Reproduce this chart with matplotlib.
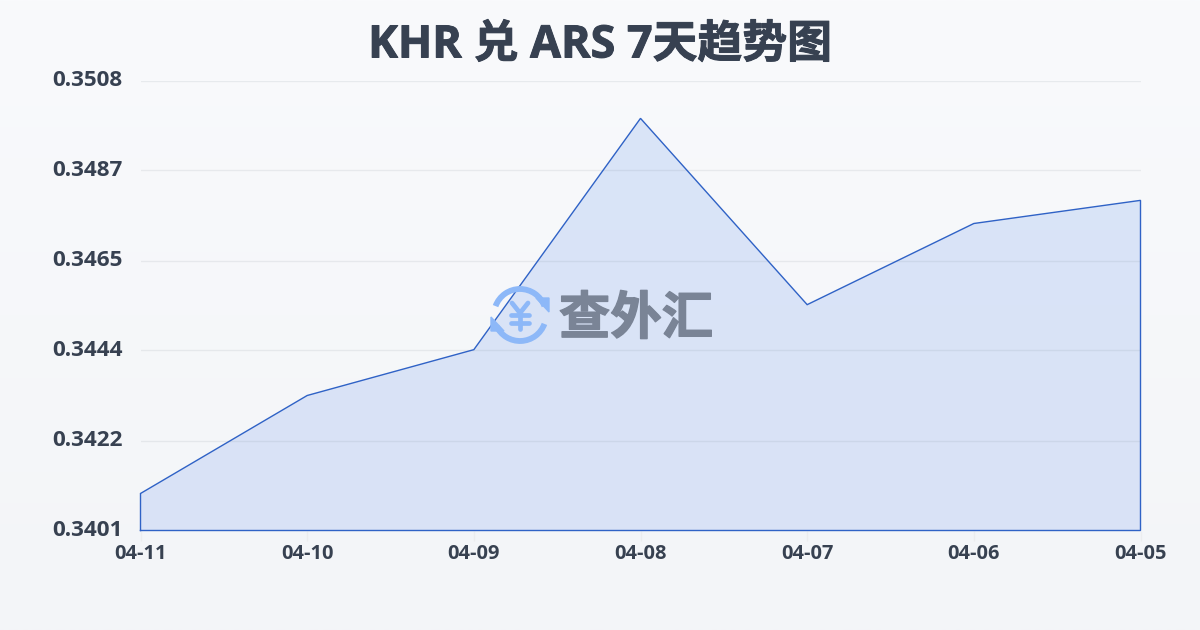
import numpy as np
import matplotlib
matplotlib.use('Agg')
import matplotlib.pyplot as plt
import matplotlib.patheffects as pe
from matplotlib.patches import Arc, Polygon
from matplotlib.colors import LinearSegmentedColormap
from matplotlib.transforms import ScaledTranslation

plt.rcParams['font.family'] = ['Open Sans', 'Noto Sans CJK SC', 'DejaVu Sans']

dates = ['04-11', '04-10', '04-09', '04-08', '04-07', '04-06', '04-05']
rates = [0.34098, 0.34331, 0.34440, 0.34990, 0.34547, 0.34740, 0.34795]
y_labels = ['0.3401', '0.3422', '0.3444', '0.3465', '0.3487', '0.3508']
y_min = 0.3401
y_max = 0.3508

W, H = 1200, 630
text_color = '#374151'

fig = plt.figure(figsize=(12, 6.3), dpi=100)

# 背景渐变
bg = fig.add_axes([0, 0, 1, 1], zorder=0)
bg_cmap = LinearSegmentedColormap.from_list('bg', ['#f9fafc', '#f3f5f8'])
bg.imshow(np.linspace(0, 1, 256).reshape(-1, 1), cmap=bg_cmap, aspect='auto', extent=[0, W, H, 0])
bg.axis('off')

ax = fig.add_axes([140.5 / W, 1 - 530.5 / H, 1000 / W, 450 / H], zorder=1)
ax.patch.set_alpha(0)
x = np.arange(len(dates))

# 面积渐变
fill_cmap = LinearSegmentedColormap.from_list('fill', ['#dae5f8', '#d9e2f6'])
im = ax.imshow(np.linspace(0, 1, 256).reshape(-1, 1), cmap=fill_cmap, aspect='auto',
               extent=[0, len(dates) - 1, y_min, y_max], origin='upper', zorder=1)
poly = ax.fill_between(x, rates, y_min, color='none')
im.set_clip_path(poly.get_paths()[0], transform=ax.transData)
ax.set_xlim(0, len(dates) - 1)
ax.set_ylim(y_min, y_max)

ticks = np.linspace(y_min, y_max, len(y_labels))
ax.set_yticks(ticks)
ax.set_yticklabels(y_labels)
ax.set_xticks(x)
ax.set_xticklabels(dates)
ax.grid(axis='y', color='#7c8794', alpha=0.13, lw=1, zorder=2)
ax.set_axisbelow(False)

ax.plot(np.r_[x[0], x, x[-1], x[0]], np.r_[y_min, rates, y_min, y_min],
        color='#2f62c6', lw=1, zorder=3, clip_on=False, solid_joinstyle='miter')

for s in ax.spines.values():
    s.set_visible(False)
ax.tick_params(axis='y', length=0, pad=13, labelsize=16.2, labelcolor=text_color)
ax.tick_params(axis='x', length=7, width=1, color='#ecedef', pad=2.5, labelsize=14.4, labelcolor=text_color)
for lb in ax.get_yticklabels() + ax.get_xticklabels():
    lb.set_fontweight('bold')
# y 标签稍微上移
shift = ScaledTranslation(0, 1.5 / 72, fig.dpi_scale_trans)
for lb in ax.get_yticklabels():
    lb.set_transform(lb.get_transform() + shift)

title = fig.text(600 / W, 1 - 46 / H, 'KHR 兑 ARS 7天趋势图', ha='center', va='center',
                 fontsize=32.3, fontweight='bold', color=text_color)
title.set_path_effects([pe.withStroke(linewidth=0.7, foreground=text_color)])

# 水印 logo
wm = fig.add_axes([0, 0, 1, 1], zorder=2)
wm.set_xlim(0, W)
wm.set_ylim(H, 0)
wm.axis('off')
logo_blue = '#8db8f8'
wm.add_patch(Arc((520, 315), 52, 52, theta1=200, theta2=340, color=logo_blue, lw=4.2))
wm.add_patch(Arc((520, 315), 52, 52, theta1=20, theta2=155, color=logo_blue, lw=4.2))
wm.add_patch(Polygon([[549, 312], [536, 298], [549, 298]], color=logo_blue))
wm.add_patch(Polygon([[491, 317], [504, 331], [491, 331]], color=logo_blue))
# ¥ 符号
for xs, ys in [([512, 520, 528], [303, 313, 303]), ([511, 529], [315, 315]),
               ([511, 529], [323, 323]), ([520, 520], [313, 329])]:
    wm.plot(xs, ys, color=logo_blue, lw=3.4, solid_capstyle='round', solid_joinstyle='round')
wm.set_xlim(0, W)
wm.set_ylim(H, 0)
logo_text = wm.text(636, 321, '查外汇', ha='center', va='center', fontsize=37, fontweight='bold', color='#7a8496')
logo_text.set_path_effects([pe.withStroke(linewidth=1.0, foreground='#7a8496')])

fig.savefig('out.png', dpi=100)
